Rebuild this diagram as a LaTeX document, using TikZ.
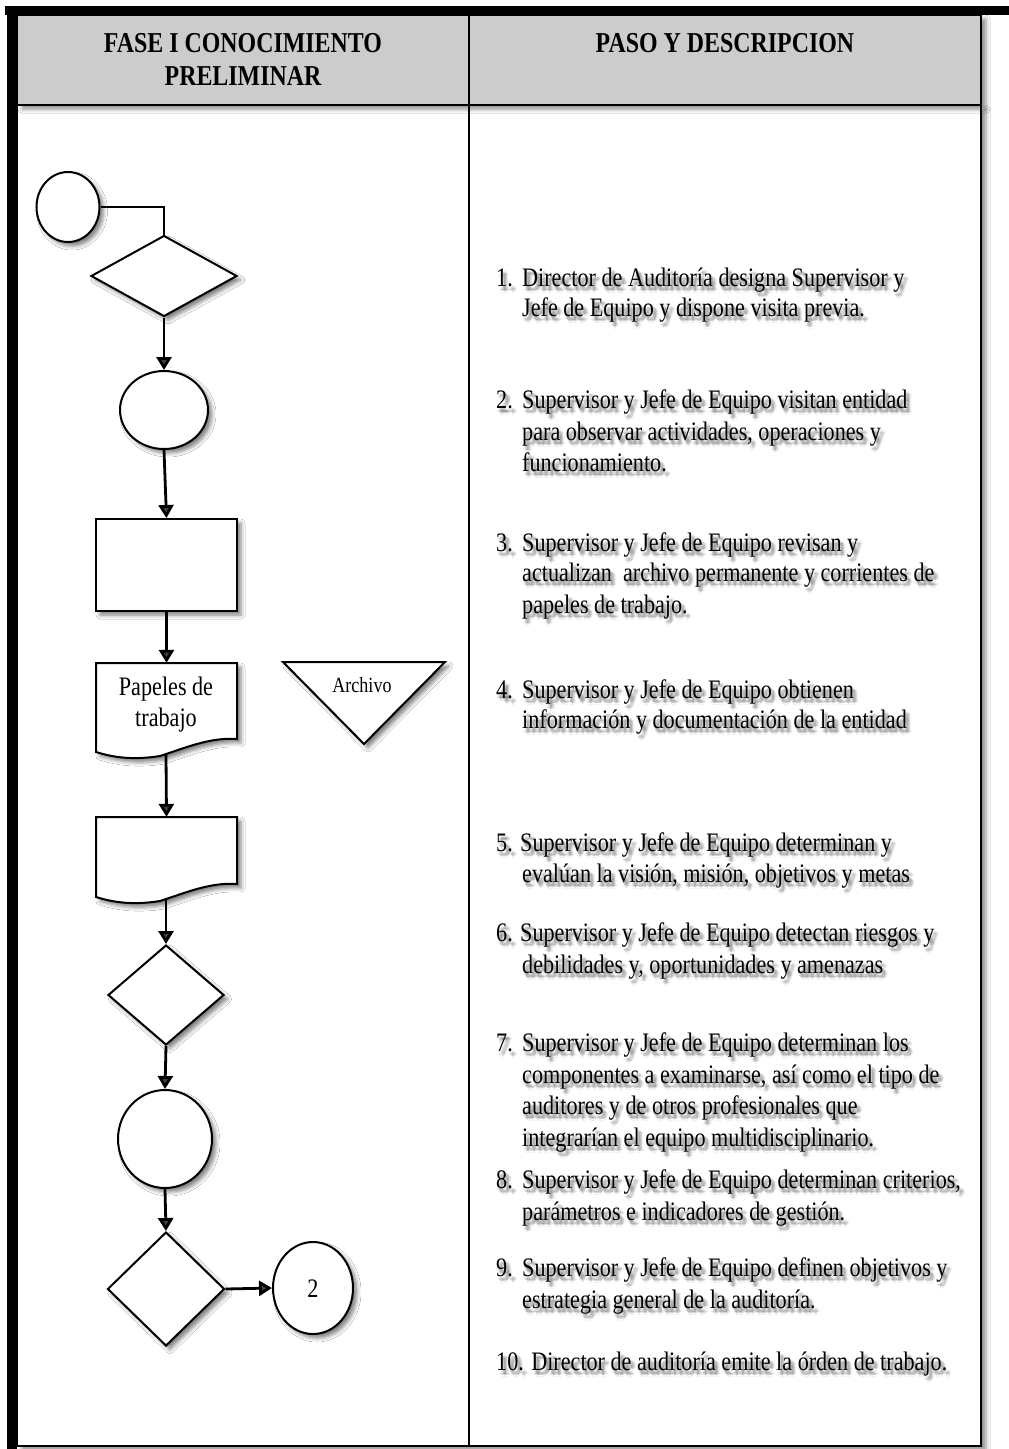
\documentclass[tikz,border=0pt]{standalone}
\usepackage{fontspec}
\setmainfont{Liberation Serif}[FakeStretch=0.83]
\usetikzlibrary{shapes.geometric,arrows.meta,shadows.blur,calc}

\tikzset{
  softshadow/.style={blur shadow={shadow xshift=4pt,shadow yshift=-4pt,shadow blur radius=4pt,shadow opacity=50}},
  tableshadow/.style={blur shadow={shadow xshift=5pt,shadow yshift=-4pt,shadow blur radius=4pt,shadow opacity=45}},
  outline/.style={draw=black,line width=2pt,fill=white},
  flowcircle/.style={outline,ellipse,inner sep=0pt,softshadow},
  decision/.style={outline,diamond,inner sep=0pt,softshadow},
  process/.style={outline,rectangle,inner sep=0pt,softshadow},
  docarea/.style={rectangle,inner sep=0pt,minimum width=141,draw=none},
  link/.style={line width=2.8pt,-{Triangle[width=15pt,length=13pt]}},
  plainlink/.style={line width=2pt},
  headcell/.style={draw=black,line width=1.5pt,fill=black!20},
  bodycell/.style={draw=black,line width=1.5pt,fill=white},
  headtext/.style={anchor=base,inner sep=0pt,font=\fontsize{28.8}{33}\selectfont\bfseries},
  bodytext/.style={anchor=base west,inner sep=0pt,font=\fontsize{26.7}{31}\selectfont},
  shapetext/.style={anchor=base,inner sep=0pt,font=\fontsize{26.7}{31}\selectfont},
  smalltext/.style={anchor=base,inner sep=0pt,font=\fontsize{21.7}{25}\selectfont},
}

% one line of the description column, with its soft shadow underneath
\newcommand\shadowline[4]{%
  \foreach \dx/\dy [count=\k] in {3/4,1.5/4,4.5/4,3/2.5,3/5.5,2/3,4/3,2/5,4/5,0.5/4.5,5.5/4.5,3/7}{%
    \node[bodytext,text=black,text opacity=0.06] (#1-s\k) at (#2+\dx,#3+\dy) {#4};
  }%
  \node[bodytext] (#1) at (#2,#3) {#4};
}

\begin{document}
\begin{tikzpicture}[x=1pt,y=-1pt]
\useasboundingbox (0,0) rectangle (1009,1449);
\fill[white] (0,0) rectangle (1009,1449);

% ---- table ----
\path[bodycell,tableshadow] (17,105) rectangle (981,1446);
\draw[bodycell] (17,105) rectangle (469,1446);
\draw[bodycell] (469,105) rectangle (981,1446);
\path[headcell,tableshadow] (17,15) rectangle (981,105);
\draw[headcell] (17,15) rectangle (469,105);
\draw[headcell] (469,15) rectangle (981,105);
\fill[black] (5,6) rectangle (1009,15);
\fill[black] (7,6) rectangle (17,1449);
\draw[black,line width=2pt] (7,1446) -- (981,1446);

\node[headtext] (h1a) at (243,52) {FASE I CONOCIMIENTO};
\node[headtext] (h1b) at (243,85) {PRELIMINAR};
\node[headtext] (h2) at (725,52) {PASO Y DESCRIPCION};

% ---- flowchart ----
\node[flowcircle,minimum width=63,minimum height=70] (start) at (68,207) {};
\node[decision,minimum width=146,minimum height=81] (d1) at (164,276) {};
\node[flowcircle,minimum width=88,minimum height=78] (c2) at (164,410) {};
\node[process,minimum width=141,minimum height=92] (p1) at (166.5,565) {};

% document: papeles de trabajo
\draw[outline,softshadow] (96,663) -- (237,663) -- (237,739)
  .. controls (210,737) and (185,748) .. (160,756)
  .. controls (135,760) and (115,758) .. (96,752) -- cycle;
\node[docarea,minimum height=76] (doc1) at (166.5,701) {};
\coordinate (doc1b) at (166,755);
\node[shapetext] (doc1t1) at (166,695) {Papeles de};
\node[shapetext] (doc1t2) at (166,726) {trabajo};

% archive
\draw[outline,softshadow] (283,662) -- (445,662) -- (364,744) -- cycle;
\node[smalltext] (arch) at (362,692) {Archivo};

% second document
\draw[outline,softshadow] (96,817) -- (237,817) -- (237,884)
  .. controls (210,882) and (185,893) .. (160,901)
  .. controls (135,905) and (115,903) .. (96,897) -- cycle;
\node[docarea,minimum height=67] (doc2) at (166.5,850.5) {};
\coordinate (doc2b) at (166,900);

\node[decision,minimum width=116,minimum height=100] (d2) at (166,995) {};
\node[flowcircle,minimum width=94,minimum height=98] (c3) at (165,1139) {};
\node[decision,minimum width=117,minimum height=114] (d3) at (166,1289) {};
\node[flowcircle,minimum width=80,minimum height=92] (c4) at (313,1288) {};
\node[shapetext] (c4t) at (313,1297) {2};

% connectors
\draw[plainlink] (start.east) -| (d1.north);
\draw[link] (d1.south) -- (c2.north);
\draw[link] (c2.south) -- (p1.north);
\draw[link] (p1.south) -- (doc1.north);
\draw[link] (doc1b) -- (doc2.north);
\draw[link] (doc2b) -- (d2.north);
\draw[link] (d2.south) -- (c3.north);
\draw[link] (c3.south) -- (d3.north);
\draw[link] (d3.east) -- (c4.west);

% ---- description column ----
\shadowline{n1}{496}{286}{1.}
\shadowline{l1a}{522}{286}{Director de Auditoría designa Supervisor y}
\shadowline{l1b}{522}{316}{Jefe de Equipo y dispone visita previa.}
\shadowline{n2}{496}{408}{2.}
\shadowline{l2a}{522}{408}{Supervisor y Jefe de Equipo visitan entidad}
\shadowline{l2b}{522}{440}{para observar actividades, operaciones y}
\shadowline{l2c}{522}{471}{funcionamiento.}
\shadowline{n3}{496}{551}{3.}
\shadowline{l3a}{522}{551}{Supervisor y Jefe de Equipo revisan y}
\shadowline{l3b}{522}{581}{actualizan\ \ archivo permanente y corrientes de}
\shadowline{l3c}{522}{613}{papeles de trabajo.}
\shadowline{n4}{496}{698}{4.}
\shadowline{l4a}{522}{698}{Supervisor y Jefe de Equipo obtienen}
\shadowline{l4b}{522}{728}{información y documentación de la entidad}
\shadowline{l5a}{496}{851}{5. Supervisor y Jefe de Equipo determinan y}
\shadowline{l5b}{522}{882}{evalúan la visión, misión, objetivos y metas}
\shadowline{l6a}{496}{941}{6. Supervisor y Jefe de Equipo detectan riesgos y}
\shadowline{l6b}{522}{973}{debilidades y, oportunidades y amenazas}
\shadowline{n7}{496}{1051}{7.}
\shadowline{l7a}{522}{1051}{Supervisor y Jefe de Equipo determinan los}
\shadowline{l7b}{522}{1083}{componentes a examinarse, así como el tipo de}
\shadowline{l7c}{522}{1114}{auditores y de otros profesionales que}
\shadowline{l7d}{522}{1146}{integrarían el equipo multidisciplinario.}
\shadowline{n8}{496}{1188}{8.}
\shadowline{l8a}{522}{1188}{Supervisor y Jefe de Equipo determinan criterios,}
\shadowline{l8b}{522}{1220}{parámetros e indicadores de gestión.}
\shadowline{n9}{496}{1276}{9.}
\shadowline{l9a}{522}{1276}{Supervisor y Jefe de Equipo definen objetivos y}
\shadowline{l9b}{522}{1308}{estrategia general de la auditoría.}
\shadowline{l10}{496}{1370}{10. Director de auditoría emite la órden de trabajo.}
\end{tikzpicture}
\end{document}
